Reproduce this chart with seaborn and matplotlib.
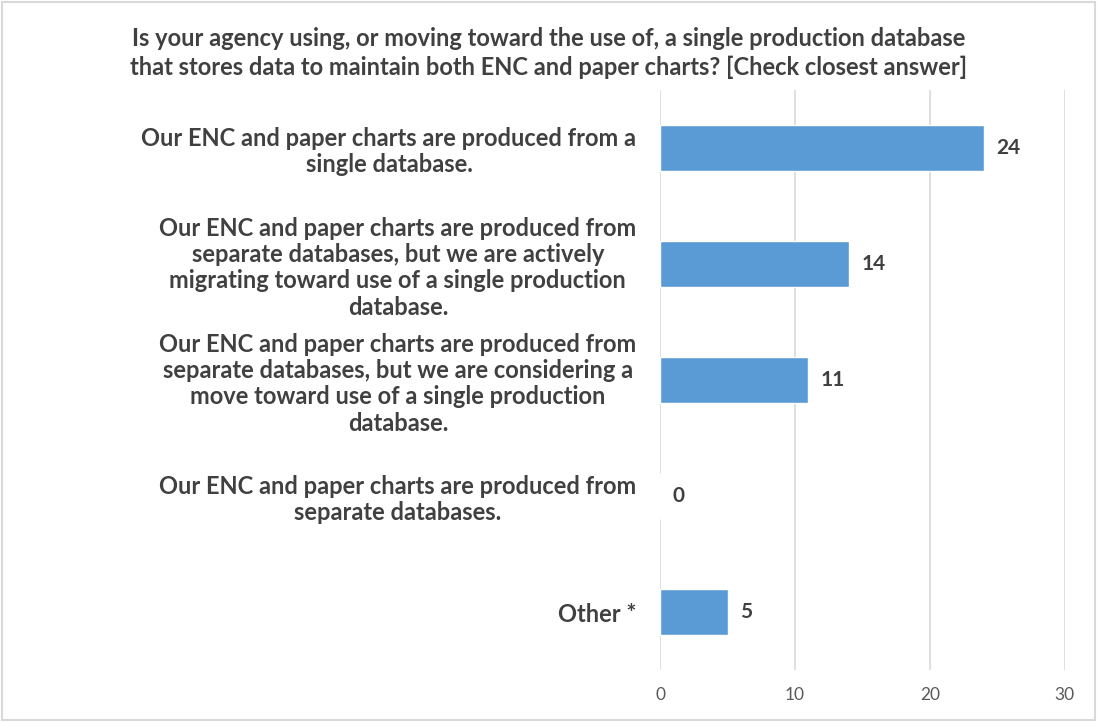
import matplotlib
matplotlib.use("Agg")
import matplotlib.pyplot as plt
import seaborn as sns
import pandas as pd
from matplotlib.patches import Rectangle

categories = [
    "Our ENC and paper charts are produced from a\nsingle database.",
    "Our ENC and paper charts are produced from\nseparate databases, but we are actively\nmigrating toward use of a single production\ndatabase.",
    "Our ENC and paper charts are produced from\nseparate databases, but we are considering a\nmove toward use of a single production\ndatabase.",
    "Our ENC and paper charts are produced from\nseparate databases.",
    "Other *",
]
values = [24, 14, 11, 0, 5]
x_ticks = [0, 10, 20, 30]
title = ("Is your agency using, or moving toward the use of, a single production database\n"
         "that stores data to maintain both ENC and paper charts? [Check closest answer]")

sns.set_theme(style="white")
plt.rcParams['font.family'] = ['Lato', 'DejaVu Sans']

df = pd.DataFrame({"category": categories, "value": values})

fig = plt.figure(figsize=(10.97, 7.22), dpi=100)
ax = fig.add_axes([0.6017, 0.072, 0.369, 0.803])

sns.barplot(data=df, y="category", x="value", orient="h", color="#5B9BD5",
            width=0.4, ax=ax, saturation=1)

ax.set_xlim(0, 30)
ax.set_xticks(x_ticks)
ax.xaxis.grid(True, color="#D9D9D9", linewidth=1.2)
ax.set_axisbelow(True)
for s in ax.spines.values():
    s.set_visible(False)
ax.set_xlabel("")
ax.set_ylabel("")
ax.tick_params(axis="x", colors="#595959", labelsize=12.5, length=0, pad=12)
ax.tick_params(axis="y", length=0, pad=17)
for lbl in ax.get_yticklabels():
    lbl.set_fontweight("bold")
    lbl.set_fontsize(17)
    lbl.set_color("#404040")
    lbl.set_multialignment("center")
    lbl.set_linespacing(1.17)

for c in ax.containers:
    ax.bar_label(c, padding=9, fontweight="bold", fontsize=15, color="#404040")

fig.text(0.5, 0.927, title, ha="center", va="center", fontsize=17,
         fontweight="bold", color="#404040", linespacing=1.3)

fig.patches.append(Rectangle((0.002, 0.003), 0.996, 0.994, transform=fig.transFigure,
                             fill=False, edgecolor="#D9D9D9", linewidth=1.5))

fig.savefig("out.png", dpi=100)
